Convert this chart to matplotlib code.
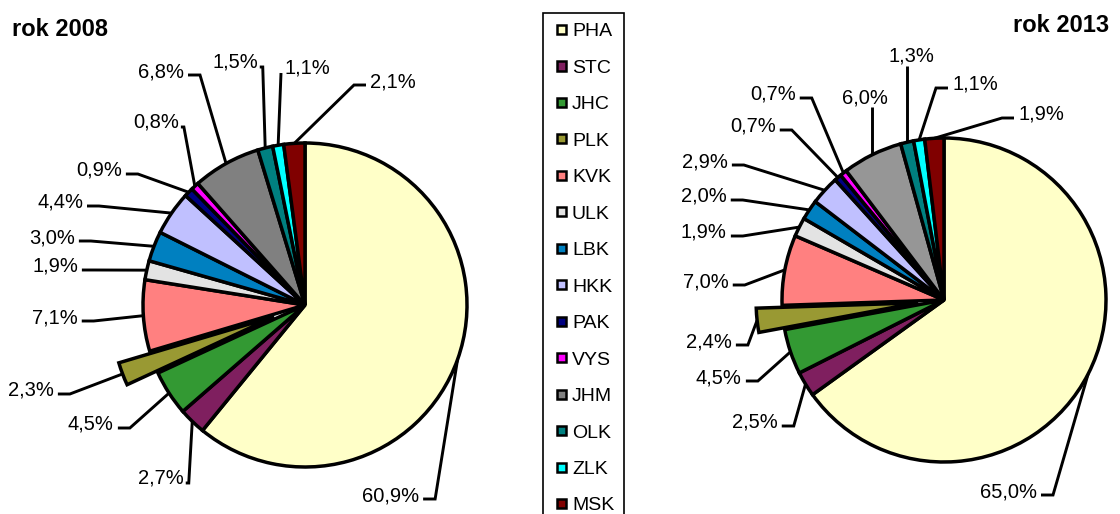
import matplotlib
matplotlib.use('Agg')
import matplotlib.pyplot as plt
import numpy as np
from matplotlib.patches import Rectangle
from matplotlib.legend_handler import HandlerPatch

plt.rcParams['font.family'] = ['Liberation Sans', 'DejaVu Sans']

# ---------------- data ----------------
regions = ['PHA', 'STC', 'JHC', 'PLK', 'KVK', 'ULK', 'LBK', 'HKK',
           'PAK', 'VYS', 'JHM', 'OLK', 'ZLK', 'MSK']
share_2008 = [60.9, 2.7, 4.5, 2.3, 7.1, 1.9, 3.0, 4.4, 0.9, 0.8, 6.8, 1.5, 1.1, 2.1]
share_2013 = [65.0, 2.5, 4.5, 2.4, 7.0, 1.9, 2.0, 2.9, 0.7, 0.7, 6.0, 1.3, 1.1, 1.9]
titles = ['rok 2008', 'rok 2013']

# ---------------- style / layout ----------------
colors_2008 = ['#FFFFC8', '#7F1F5F', '#339933', '#999933', '#FF8080', '#E3E3E3',
               '#0080C0', '#C0C0FF', '#000080', '#FF00FF', '#808080', '#008080',
               '#00FFFF', '#800000']
colors_2013 = colors_2008[:10] + ['#969696'] + colors_2008[11:]
exploded = 'PLK'

W, H = 1120, 514


def py(y):
    return H - y


# pixel layout: centre, radius, explode offset
pie_layout = [
    dict(center=(305, 305), radius=162, explode=33),
    dict(center=(944, 300), radius=162, explode=26),
]
# label layout: (left x, baseline y, leader mode)
label_layout_2008 = [
    (362, 501, 'L'), (138, 483, 'L0'), (68, 430, 'L'), (8, 396, 'L'),
    (32, 323, 'L'), (32, 272, 'L'), (29, 243, 'L'), (37, 208, 'L'),
    (76, 176, 'L'), (133, 127, 'L0'), (138, 77, 'L'), (212, 67, 'L0'),
    (285, 73, 'R0'), (370, 87, 'R'),
]
label_layout_2013 = [
    (980, 497, 'L'), (732, 428, 'L'), (696, 383, 'L'), (686, 347, 'L'),
    (683, 287, 'L'), (681, 238, 'L'), (681, 202, 'L'), (682, 167, 'L'),
    (730, 132, 'L'), (750, 100, 'L'), (842, 103, 'B'), (888, 62, 'B'),
    (952, 90, 'R'), (1018, 120, 'R'),
]
title_layout = [(12, 36, 'left'), (1109, 32, 'right')]


def fmt(v):
    return f'{v:.1f}'.replace('.', ',') + '%'


fig = plt.figure(figsize=(W / 100, H / 100), dpi=100)
ax = fig.add_axes([0, 0, 1, 1])

datasets = [(share_2008, colors_2008, label_layout_2008),
            (share_2013, colors_2013, label_layout_2013)]

all_wedges = []
all_texts = []
for (vals, cols, lab_lay), lay in zip(datasets, pie_layout):
    cx, cy = lay['center']
    expl = [lay['explode'] if r == exploded else 0 for r in regions]
    wedges, _ = ax.pie(vals, colors=cols, startangle=90, counterclock=False,
                       center=(cx, py(cy)), radius=lay['radius'], explode=expl,
                       wedgeprops=dict(edgecolor='black', linewidth=2.5,
                                       joinstyle='miter'))
    all_wedges.append(wedges)
    texts = []
    for v, (lx, lb, mode) in zip(vals, lab_lay):
        t = ax.text(lx, py(lb), fmt(v), ha='left', va='baseline',
                    fontsize=14.5, color='black')
        texts.append(t)
    all_texts.append(texts)

for title, (tx, tb, ha) in zip(titles, title_layout):
    ax.text(tx, py(tb), title, ha=ha, va='baseline', fontsize=17,
            fontweight='bold')

ax.set_xlim(0, W)
ax.set_ylim(0, H)
ax.set_aspect('equal', adjustable='box')
ax.axis('off')

fig.canvas.draw()
renderer = fig.canvas.get_renderer()
inv = ax.transData.inverted()

for wedges, texts, lab_lay in zip(all_wedges, all_texts,
                                  [label_layout_2008, label_layout_2013]):
    for w, t, (lx, lb, mode) in zip(wedges, texts, lab_lay):
        th = np.deg2rad((w.theta1 + w.theta2) / 2)
        ax_x = w.center[0] + w.r * np.cos(th)
        ax_y = w.center[1] + w.r * np.sin(th)
        bb = t.get_window_extent(renderer)
        (x0, y0b), (x1, y1b) = inv.transform([[bb.x0, bb.y0], [bb.x1, bb.y1]])
        yl = py(lb) + 2
        if mode == 'L':
            pts = [(x1 + 4, yl), (x1 + 16, yl), (ax_x, ax_y)]
        elif mode == 'R':
            pts = [(x0 - 4, yl), (x0 - 16, yl), (ax_x, ax_y)]
        elif mode == 'L0':
            pts = [(x1 + 2, py(lb)), (x1 + 5, py(lb)), (ax_x, ax_y)]
        elif mode == 'R0':
            pts = [(x0 - 4, py(lb)), (ax_x, ax_y)]
        else:  # 'B'
            pts = [(ax_x, py(lb + 4)), (ax_x, ax_y)]
        xs, ys = zip(*pts)
        ax.plot(xs, ys, color='black', lw=2.1, solid_capstyle='butt',
                solid_joinstyle='miter', zorder=0.5)


def make_square(legend, orig_handle, xdescent, ydescent, width, height, fontsize):
    s = 6.5
    return Rectangle((-xdescent + width - s, -ydescent + (height - s) / 2), s, s)


leg = ax.legend(all_wedges[0], regions, loc='upper left',
                bbox_to_anchor=(543, py(13)), bbox_transform=ax.transData,
                borderaxespad=0, borderpad=0.5, fontsize=14,
                handlelength=0.69, handleheight=0.7, handletextpad=0.3,
                labelspacing=0.97, fancybox=False, framealpha=1,
                edgecolor='black',
                handler_map={matplotlib.patches.Wedge: HandlerPatch(patch_func=make_square)})
leg.get_frame().set_linewidth(1.2)
for h in leg.legend_handles:
    h.set_linewidth(1.8)

fig.savefig('out.png', dpi=100)
